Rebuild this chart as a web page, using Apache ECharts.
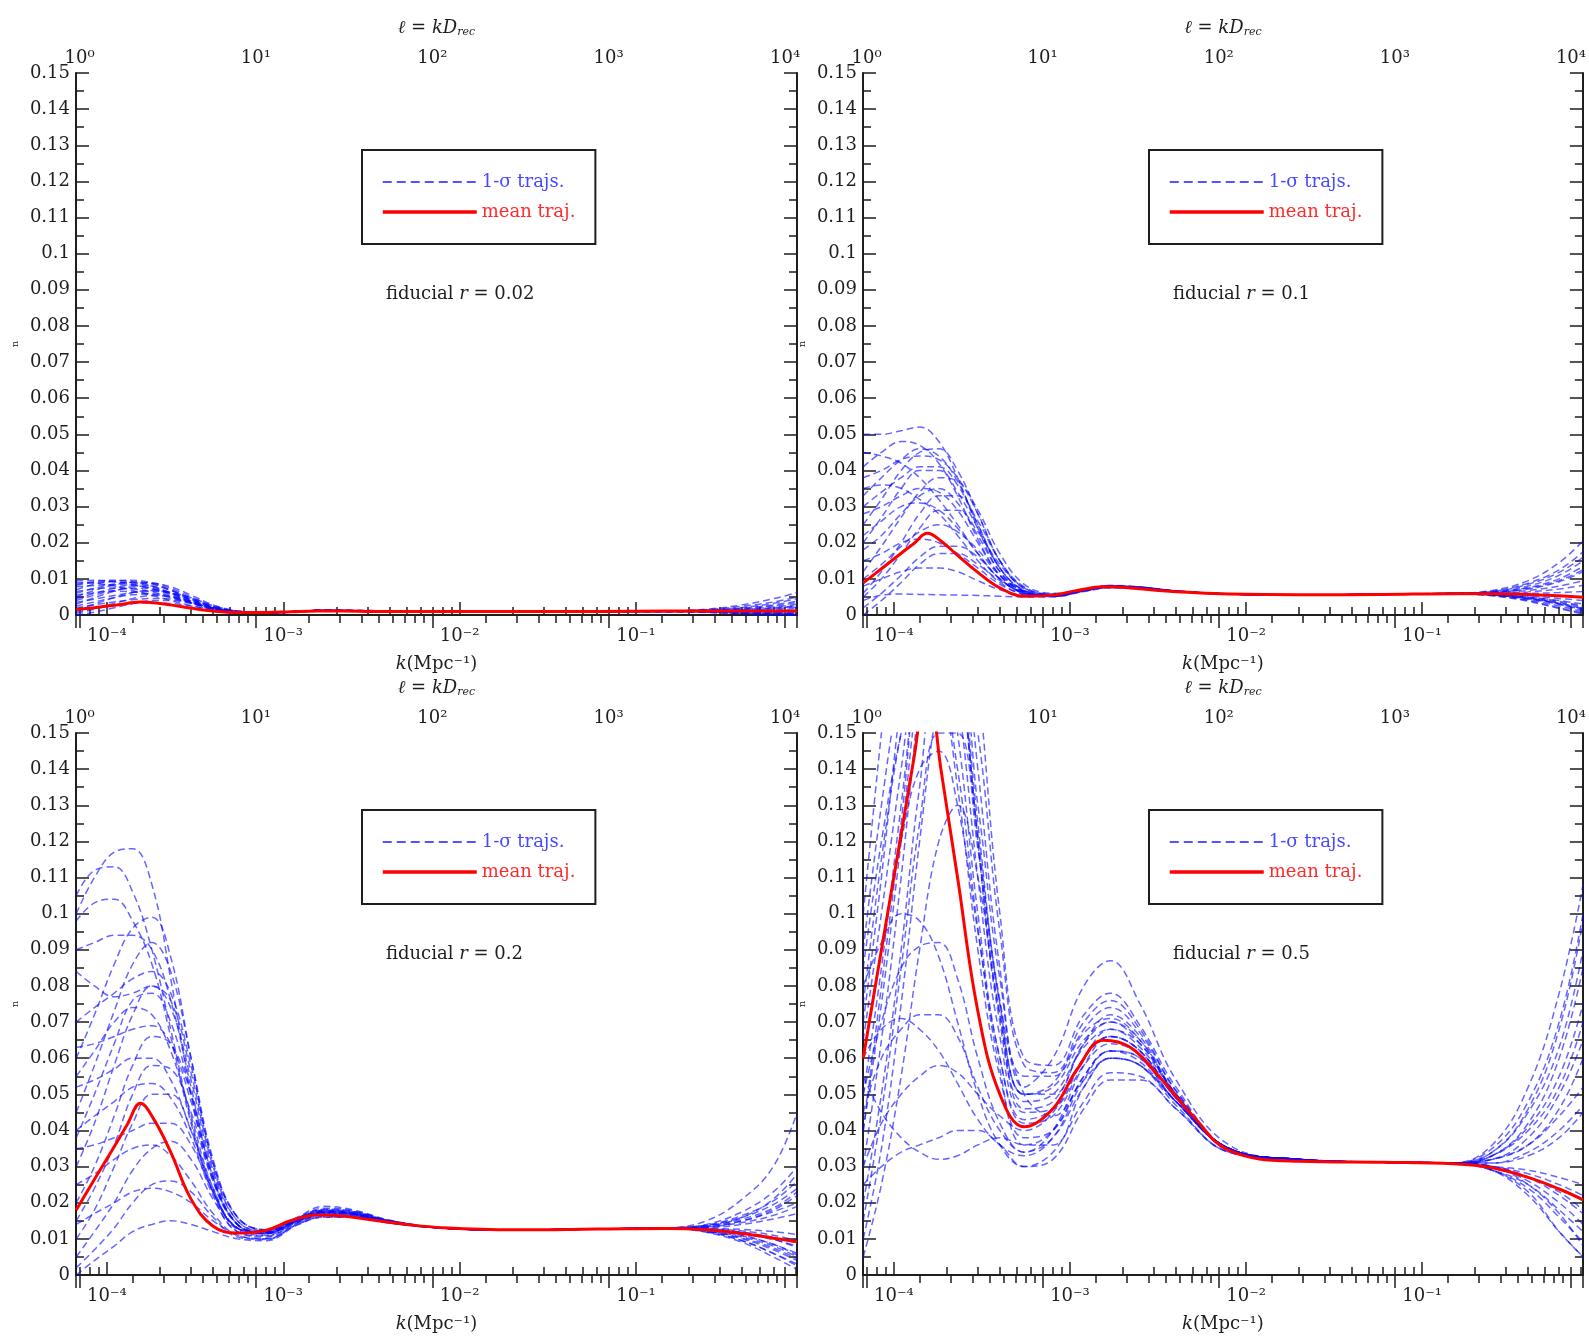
<!DOCTYPE html>
<html><head><meta charset="utf-8">
<script src="https://cdn.jsdelivr.net/npm/echarts@6/dist/echarts.min.js"></script>
<style>html,body{margin:0;padding:0;background:#fff}#c{width:1589px;height:1340px}</style>
</head><body><div id="c"></div>
<script>
// ---------------- data ----------------
const K = [6.7e-5, 8.5e-5, 1.1e-4, 1.4e-4, 1.8e-4, 2.3e-4, 3e-4, 4e-4, 5.5e-4, 8e-4, 1.2e-3, 1.7e-3, 2.5e-3, 4e-3, 8e-3, 2e-2, 6e-2, 0.15, 0.25, 0.4, 0.6, 0.82];
const K_MEAN = [6.7e-5, 8.5e-5, 1.1e-4, 1.3e-4, 1.55e-4, 1.85e-4, 2.3e-4, 3e-4, 4e-4, 5.5e-4, 8e-4, 1.1e-3, 1.55e-3, 2.2e-3, 3.2e-3, 5e-3, 8e-3, 2e-2, 6e-2, 0.15, 0.25, 0.4, 0.6, 0.82];
const K_MIN = 6.68e-5, K_MAX = 0.818, D_REC = 14290;
const fiducialR = ['0.02', '0.1', '0.2', '0.5'];

const mean_r002 = [0.0015,0.0020,0.0027,0.0032,0.0036,0.0034,0.0028,0.0019,0.0011,0.0007,0.0007,0.0009,0.0011,0.0011,0.0010,0.0010,0.0010,0.0010,0.0010,0.0011,0.0011,0.0011,0.0011,0.0011];
const mean_r01 = [0.0089,0.0128,0.0171,0.0198,0.0226,0.0205,0.0165,0.0118,0.0075,0.0052,0.0055,0.0068,0.0078,0.0075,0.0068,0.0062,0.0058,0.0056,0.0057,0.0059,0.0059,0.0057,0.0053,0.0049];
const mean_r02 = [0.018,0.0265,0.0355,0.0415,0.0475,0.043,0.034,0.021,0.0135,0.0116,0.0124,0.0150,0.0166,0.0163,0.0152,0.0140,0.0131,0.0125,0.0127,0.0129,0.0125,0.0115,0.0102,0.0092];
const mean_r05 = [0.060,0.090,0.122,0.143,0.165,0.140,0.110,0.073,0.050,0.041,0.046,0.057,0.065,0.063,0.055,0.044,0.0345,0.0315,0.0312,0.0308,0.0297,0.027,0.0238,0.0208];

const traj_r002 = [
[0.0085,0.0093,0.0096,0.0092,0.0080,0.0060,0.0036,0.0017,0.0008,0.0007,0.0010,0.0013,0.0012,0.0011,0.0010,0.0010,0.0010,0.0011,0.0016,0.0028,0.0045,0.0062],
[0.0070,0.0085,0.0094,0.0096,0.0088,0.0068,0.0042,0.0020,0.0009,0.0006,0.0010,0.0013,0.0013,0.0011,0.0010,0.0010,0.0010,0.0010,0.0008,0.0004,0.0001,0.0000],
[0.0050,0.0068,0.0083,0.0090,0.0086,0.0070,0.0046,0.0022,0.0010,0.0006,0.0009,0.0012,0.0012,0.0011,0.0010,0.0010,0.0010,0.0011,0.0014,0.0021,0.0032,0.0045],
[0.0030,0.0048,0.0066,0.0078,0.0080,0.0068,0.0046,0.0023,0.0010,0.0006,0.0009,0.0012,0.0012,0.0011,0.0010,0.0010,0.0010,0.0010,0.0009,0.0006,0.0003,0.0001],
[0.0090,0.0088,0.0080,0.0068,0.0054,0.0040,0.0026,0.0014,0.0007,0.0006,0.0010,0.0013,0.0012,0.0011,0.0010,0.0010,0.0010,0.0011,0.0013,0.0018,0.0025,0.0034],
[0.0015,0.0030,0.0048,0.0062,0.0068,0.0060,0.0042,0.0021,0.0009,0.0006,0.0009,0.0012,0.0012,0.0011,0.0010,0.0010,0.0010,0.0010,0.0010,0.0008,0.0006,0.0004],
[0.0065,0.0072,0.0075,0.0072,0.0064,0.0050,0.0033,0.0017,0.0008,0.0006,0.0010,0.0013,0.0012,0.0011,0.0010,0.0010,0.0010,0.0011,0.0015,0.0024,0.0036,0.0050],
[0.0005,0.0016,0.0032,0.0046,0.0054,0.0050,0.0037,0.0019,0.0008,0.0006,0.0009,0.0012,0.0012,0.0011,0.0010,0.0010,0.0010,0.0010,0.0007,0.0003,0.0000,0.0000],
[0.0040,0.0055,0.0068,0.0074,0.0072,0.0062,0.0044,0.0023,0.0010,0.0007,0.0010,0.0013,0.0012,0.0011,0.0010,0.0010,0.0010,0.0011,0.0012,0.0015,0.0020,0.0026],
[0.0025,0.0036,0.0048,0.0056,0.0058,0.0052,0.0038,0.0020,0.0009,0.0006,0.0009,0.0012,0.0012,0.0011,0.0010,0.0010,0.0010,0.0010,0.0009,0.0007,0.0005,0.0002],
[0.0078,0.0082,0.0084,0.0082,0.0074,0.0058,0.0038,0.0019,0.0008,0.0006,0.0010,0.0013,0.0013,0.0011,0.0010,0.0010,0.0010,0.0010,0.0011,0.0012,0.0014,0.0018],
[0.0000,0.0008,0.0020,0.0032,0.0040,0.0040,0.0032,0.0018,0.0008,0.0006,0.0009,0.0012,0.0012,0.0011,0.0010,0.0010,0.0010,0.0010,0.0008,0.0005,0.0002,0.0000],
[0.0055,0.0062,0.0066,0.0064,0.0058,0.0048,0.0034,0.0019,0.0009,0.0006,0.0010,0.0013,0.0012,0.0011,0.0010,0.0010,0.0010,0.0011,0.0013,0.0019,0.0028,0.0038],
[0.0035,0.0044,0.0054,0.0062,0.0066,0.0062,0.0048,0.0026,0.0011,0.0006,0.0009,0.0012,0.0012,0.0011,0.0010,0.0010,0.0010,0.0010,0.0010,0.0009,0.0008,0.0007],
[0.0020,0.0028,0.0036,0.0042,0.0046,0.0044,0.0034,0.0019,0.0009,0.0006,0.0009,0.0012,0.0012,0.0011,0.0010,0.0010,0.0010,0.0010,0.0011,0.0013,0.0017,0.0022],
[0.0095,0.0096,0.0092,0.0084,0.0072,0.0054,0.0034,0.0016,0.0007,0.0006,0.0010,0.0013,0.0012,0.0011,0.0010,0.0010,0.0010,0.0010,0.0008,0.0005,0.0002,0.0001],
[0.0010,0.0018,0.0026,0.0032,0.0034,0.0032,0.0025,0.0015,0.0008,0.0006,0.0009,0.0012,0.0012,0.0011,0.0010,0.0010,0.0010,0.0011,0.0012,0.0016,0.0022,0.0030],
[0.0045,0.0060,0.0074,0.0084,0.0088,0.0078,0.0055,0.0028,0.0011,0.0007,0.0010,0.0013,0.0012,0.0011,0.0010,0.0010,0.0010,0.0010,0.0009,0.0006,0.0004,0.0003],
[0.0060,0.0074,0.0086,0.0091,0.0089,0.0074,0.0050,0.0025,0.0011,0.0007,0.0010,0.0013,0.0012,0.0011,0.0010,0.0010,0.0010,0.0011,0.0012,0.0014,0.0018,0.0024],
[0.0082,0.0090,0.0092,0.0088,0.0078,0.0062,0.0040,0.0020,0.0009,0.0006,0.0010,0.0013,0.0012,0.0011,0.0010,0.0010,0.0010,0.0010,0.0009,0.0007,0.0006,0.0005]
];

const traj_r01 = [
[0.050,0.050,0.051,0.052,0.048,0.038,0.024,0.012,0.0065,0.0055,0.0070,0.0080,0.0076,0.0066,0.0058,0.0056,0.0057,0.0060,0.0068,0.0095,0.0145,0.0205],
[0.041,0.045,0.048,0.047,0.042,0.033,0.021,0.011,0.0060,0.0052,0.0068,0.0078,0.0075,0.0066,0.0058,0.0056,0.0057,0.0059,0.0055,0.0040,0.0020,0.0005],
[0.025,0.032,0.040,0.045,0.046,0.040,0.028,0.015,0.0075,0.0058,0.0070,0.0082,0.0078,0.0067,0.0058,0.0056,0.0057,0.0060,0.0064,0.0080,0.0110,0.0150],
[0.030,0.034,0.038,0.041,0.041,0.036,0.025,0.013,0.0068,0.0054,0.0069,0.0079,0.0076,0.0066,0.0058,0.0056,0.0057,0.0059,0.0057,0.0048,0.0035,0.0022],
[0.012,0.019,0.027,0.034,0.038,0.037,0.029,0.017,0.0085,0.0060,0.0071,0.0080,0.0076,0.0066,0.0058,0.0056,0.0057,0.0060,0.0062,0.0072,0.0092,0.0120],
[0.035,0.036,0.035,0.032,0.028,0.022,0.015,0.0090,0.0058,0.0052,0.0067,0.0077,0.0075,0.0066,0.0058,0.0056,0.0057,0.0059,0.0056,0.0045,0.0030,0.0012],
[0.018,0.022,0.028,0.033,0.035,0.031,0.022,0.012,0.0065,0.0054,0.0069,0.0079,0.0076,0.0066,0.0058,0.0056,0.0057,0.0060,0.0066,0.0088,0.0125,0.0175],
[0.005,0.010,0.017,0.024,0.029,0.029,0.023,0.014,0.0075,0.0057,0.0070,0.0080,0.0076,0.0066,0.0058,0.0056,0.0057,0.0059,0.0058,0.0050,0.0040,0.0030],
[0.022,0.026,0.030,0.031,0.029,0.024,0.017,0.010,0.0062,0.0053,0.0068,0.0078,0.0075,0.0066,0.0058,0.0056,0.0057,0.0060,0.0061,0.0068,0.0080,0.0095],
[0.010,0.014,0.019,0.023,0.025,0.023,0.018,0.011,0.0065,0.0054,0.0068,0.0078,0.0075,0.0066,0.0058,0.0056,0.0057,0.0059,0.0054,0.0042,0.0025,0.0008],
[0.045,0.044,0.042,0.038,0.032,0.025,0.017,0.010,0.0060,0.0052,0.0068,0.0078,0.0076,0.0066,0.0058,0.0056,0.0057,0.0060,0.0065,0.0085,0.0118,0.0160],
[0.002,0.006,0.011,0.016,0.019,0.019,0.016,0.010,0.0062,0.0054,0.0068,0.0077,0.0075,0.0066,0.0058,0.0056,0.0057,0.0059,0.0057,0.0050,0.0038,0.0025],
[0.015,0.017,0.020,0.021,0.020,0.017,0.013,0.0085,0.0058,0.0052,0.0067,0.0077,0.0074,0.0066,0.0058,0.0056,0.0057,0.0059,0.0060,0.0064,0.0072,0.0082],
[0.008,0.010,0.012,0.013,0.013,0.012,0.0095,0.0070,0.0055,0.0051,0.0066,0.0076,0.0074,0.0065,0.0058,0.0056,0.0057,0.0059,0.0055,0.0045,0.0030,0.0015],
[0.028,0.030,0.033,0.035,0.034,0.029,0.020,0.011,0.0063,0.0053,0.0068,0.0079,0.0076,0.0066,0.0058,0.0056,0.0057,0.0060,0.0063,0.0076,0.0100,0.0135],
[0.004,0.0055,0.0058,0.0057,0.0056,0.0055,0.0054,0.0052,0.0050,0.0050,0.0065,0.0075,0.0073,0.0065,0.0058,0.0056,0.0057,0.0059,0.0057,0.0053,0.0046,0.0040],
[0.038,0.040,0.043,0.044,0.043,0.038,0.028,0.015,0.0072,0.0056,0.0070,0.0081,0.0077,0.0066,0.0058,0.0056,0.0057,0.0060,0.0059,0.0060,0.0062,0.0065],
[0.000,0.004,0.009,0.014,0.017,0.017,0.014,0.0095,0.0062,0.0054,0.0068,0.0078,0.0075,0.0066,0.0058,0.0056,0.0057,0.0059,0.0053,0.0038,0.0018,0.0002],
[0.020,0.027,0.035,0.040,0.040,0.034,0.024,0.013,0.0068,0.0055,0.0069,0.0079,0.0076,0.0066,0.0058,0.0056,0.0057,0.0059,0.0056,0.0047,0.0033,0.0018],
[0.033,0.038,0.043,0.046,0.044,0.037,0.025,0.013,0.0066,0.0054,0.0069,0.0080,0.0077,0.0066,0.0058,0.0056,0.0057,0.0060,0.0063,0.0074,0.0095,0.0125],
[0.006,0.012,0.020,0.028,0.033,0.033,0.026,0.015,0.0078,0.0058,0.0070,0.0080,0.0076,0.0066,0.0058,0.0056,0.0057,0.0059,0.0056,0.0046,0.0032,0.0016]
];

const traj_r02 = [
[0.100,0.110,0.117,0.118,0.108,0.082,0.050,0.026,0.014,0.0120,0.0155,0.0180,0.0175,0.0150,0.0130,0.0125,0.0127,0.0130,0.0150,0.0210,0.0300,0.0450],
[0.105,0.112,0.113,0.106,0.090,0.068,0.043,0.023,0.013,0.0115,0.0150,0.0175,0.0170,0.0148,0.0130,0.0125,0.0127,0.0130,0.0135,0.0160,0.0210,0.0280],
[0.098,0.103,0.104,0.098,0.086,0.066,0.042,0.023,0.013,0.0115,0.0150,0.0172,0.0168,0.0147,0.0130,0.0125,0.0127,0.0130,0.0120,0.0095,0.0060,0.0030],
[0.060,0.072,0.086,0.096,0.099,0.088,0.060,0.031,0.016,0.0125,0.0158,0.0182,0.0176,0.0150,0.0130,0.0125,0.0127,0.0130,0.0140,0.0175,0.0230,0.0300],
[0.045,0.058,0.073,0.086,0.092,0.084,0.060,0.032,0.016,0.0125,0.0157,0.0180,0.0175,0.0150,0.0130,0.0125,0.0127,0.0130,0.0125,0.0110,0.0085,0.0060],
[0.084,0.080,0.077,0.078,0.080,0.074,0.054,0.029,0.015,0.0120,0.0155,0.0178,0.0172,0.0149,0.0130,0.0125,0.0127,0.0130,0.0132,0.0150,0.0180,0.0220],
[0.030,0.042,0.058,0.072,0.080,0.076,0.056,0.030,0.015,0.0122,0.0155,0.0178,0.0172,0.0149,0.0130,0.0125,0.0127,0.0130,0.0122,0.0100,0.0070,0.0040],
[0.063,0.064,0.066,0.068,0.069,0.064,0.048,0.027,0.014,0.0118,0.0152,0.0175,0.0170,0.0148,0.0130,0.0125,0.0127,0.0130,0.0138,0.0165,0.0205,0.0260],
[0.020,0.030,0.044,0.058,0.066,0.064,0.050,0.028,0.014,0.0118,0.0152,0.0174,0.0170,0.0148,0.0130,0.0125,0.0127,0.0130,0.0128,0.0118,0.0100,0.0075],
[0.052,0.054,0.057,0.060,0.060,0.054,0.040,0.023,0.013,0.0115,0.0150,0.0172,0.0168,0.0147,0.0130,0.0125,0.0127,0.0130,0.0134,0.0150,0.0175,0.0200],
[0.010,0.018,0.030,0.042,0.050,0.050,0.040,0.024,0.0125,0.0110,0.0148,0.0170,0.0166,0.0146,0.0130,0.0125,0.0127,0.0130,0.0120,0.0095,0.0060,0.0025],
[0.040,0.044,0.048,0.052,0.053,0.049,0.038,0.022,0.012,0.0108,0.0146,0.0168,0.0166,0.0146,0.0130,0.0125,0.0127,0.0130,0.0131,0.0140,0.0155,0.0170],
[0.005,0.012,0.020,0.029,0.035,0.037,0.032,0.021,0.012,0.0105,0.0145,0.0166,0.0164,0.0145,0.0130,0.0125,0.0127,0.0130,0.0126,0.0115,0.0098,0.0080],
[0.025,0.028,0.032,0.035,0.036,0.033,0.026,0.017,0.011,0.0100,0.0143,0.0165,0.0163,0.0145,0.0130,0.0125,0.0127,0.0130,0.0137,0.0160,0.0195,0.0240],
[0.002,0.007,0.013,0.020,0.025,0.026,0.023,0.016,0.0105,0.0098,0.0140,0.0163,0.0162,0.0144,0.0130,0.0125,0.0127,0.0130,0.0118,0.0090,0.0050,0.0015],
[0.014,0.017,0.020,0.023,0.024,0.023,0.020,0.015,0.0110,0.0100,0.0140,0.0160,0.0160,0.0144,0.0130,0.0125,0.0127,0.0130,0.0124,0.0108,0.0085,0.0055],
[0.070,0.074,0.078,0.082,0.084,0.078,0.058,0.031,0.016,0.0125,0.0158,0.0185,0.0178,0.0151,0.0130,0.0125,0.0127,0.0130,0.0128,0.0122,0.0110,0.0095],
[0.035,0.036,0.038,0.040,0.042,0.042,0.036,0.023,0.013,0.0120,0.0160,0.0190,0.0180,0.0152,0.0130,0.0125,0.0127,0.0130,0.0133,0.0145,0.0165,0.0190],
[0.000,0.004,0.008,0.012,0.014,0.015,0.014,0.012,0.0100,0.0095,0.0138,0.0160,0.0160,0.0144,0.0130,0.0125,0.0127,0.0130,0.0121,0.0102,0.0075,0.0045],
[0.090,0.092,0.094,0.094,0.090,0.076,0.052,0.027,0.014,0.0118,0.0152,0.0176,0.0171,0.0149,0.0130,0.0125,0.0127,0.0130,0.0123,0.0105,0.0080,0.0050],
[0.038,0.050,0.064,0.076,0.078,0.070,0.050,0.027,0.014,0.0118,0.0152,0.0176,0.0171,0.0149,0.0130,0.0125,0.0127,0.0130,0.0129,0.0126,0.0120,0.0112],
[0.015,0.024,0.036,0.050,0.058,0.057,0.045,0.026,0.014,0.0116,0.0150,0.0173,0.0169,0.0148,0.0130,0.0125,0.0127,0.0130,0.0127,0.0118,0.0104,0.0088],
[0.055,0.062,0.070,0.074,0.072,0.062,0.044,0.024,0.013,0.0114,0.0149,0.0172,0.0168,0.0147,0.0130,0.0125,0.0127,0.0130,0.0136,0.0155,0.0185,0.0230]
];

const traj_r05 = [
[0.070,0.110,0.160,0.200,0.210,0.180,0.120,0.070,0.048,0.050,0.063,0.068,0.063,0.050,0.035,0.032,0.0312,0.031,0.036,0.052,0.078,0.108],
[0.040,0.075,0.120,0.165,0.190,0.175,0.125,0.075,0.050,0.052,0.065,0.070,0.064,0.050,0.035,0.032,0.0312,0.031,0.034,0.046,0.068,0.098],
[0.090,0.130,0.165,0.185,0.180,0.150,0.100,0.060,0.043,0.046,0.060,0.066,0.062,0.049,0.035,0.032,0.0312,0.031,0.029,0.024,0.016,0.009],
[0.020,0.050,0.090,0.135,0.165,0.165,0.130,0.082,0.055,0.055,0.067,0.071,0.065,0.050,0.035,0.032,0.0312,0.031,0.033,0.042,0.060,0.085],
[0.060,0.090,0.120,0.140,0.145,0.130,0.095,0.060,0.042,0.044,0.058,0.064,0.061,0.049,0.035,0.032,0.0312,0.031,0.030,0.026,0.020,0.014],
[0.080,0.092,0.100,0.098,0.088,0.070,0.050,0.036,0.030,0.034,0.048,0.056,0.055,0.046,0.034,0.032,0.0312,0.031,0.032,0.038,0.050,0.065],
[0.050,0.070,0.085,0.091,0.092,0.082,0.060,0.042,0.034,0.038,0.052,0.060,0.058,0.047,0.034,0.032,0.0312,0.031,0.030,0.025,0.017,0.008],
[0.045,0.060,0.068,0.072,0.072,0.066,0.052,0.040,0.034,0.040,0.058,0.066,0.062,0.049,0.035,0.032,0.0312,0.031,0.032,0.036,0.044,0.052],
[0.060,0.068,0.071,0.068,0.062,0.053,0.043,0.036,0.033,0.038,0.054,0.062,0.060,0.048,0.035,0.032,0.0312,0.031,0.030,0.027,0.022,0.017],
[0.030,0.042,0.050,0.055,0.058,0.056,0.050,0.044,0.040,0.045,0.060,0.066,0.062,0.049,0.035,0.032,0.0312,0.031,0.033,0.040,0.052,0.070],
[0.055,0.045,0.038,0.034,0.032,0.033,0.036,0.038,0.036,0.040,0.055,0.062,0.060,0.048,0.035,0.032,0.0312,0.031,0.029,0.023,0.012,0.005],
[0.100,0.150,0.200,0.230,0.220,0.180,0.120,0.072,0.050,0.053,0.068,0.074,0.067,0.051,0.035,0.032,0.0312,0.031,0.031,0.033,0.038,0.045],
[0.030,0.065,0.110,0.160,0.200,0.210,0.165,0.100,0.060,0.058,0.072,0.078,0.069,0.052,0.035,0.032,0.0312,0.031,0.032,0.036,0.046,0.060],
[0.010,0.035,0.075,0.120,0.160,0.180,0.150,0.095,0.058,0.056,0.070,0.076,0.068,0.051,0.035,0.032,0.0312,0.031,0.029,0.025,0.018,0.012],
[0.075,0.115,0.150,0.170,0.165,0.135,0.090,0.055,0.038,0.040,0.055,0.062,0.059,0.048,0.035,0.032,0.0312,0.031,0.034,0.045,0.063,0.090],
[0.005,0.025,0.055,0.090,0.120,0.130,0.110,0.072,0.046,0.048,0.064,0.072,0.066,0.050,0.035,0.032,0.0312,0.031,0.030,0.028,0.025,0.022],
[0.085,0.120,0.150,0.168,0.165,0.140,0.096,0.057,0.036,0.036,0.052,0.060,0.058,0.048,0.035,0.032,0.0312,0.031,0.031,0.034,0.040,0.047],
[0.040,0.080,0.125,0.175,0.200,0.190,0.140,0.085,0.052,0.060,0.080,0.087,0.075,0.054,0.036,0.032,0.0312,0.031,0.030,0.027,0.023,0.018],
[0.065,0.100,0.140,0.175,0.185,0.160,0.110,0.066,0.045,0.046,0.060,0.068,0.064,0.050,0.035,0.032,0.0312,0.031,0.035,0.048,0.070,0.100],
[0.015,0.045,0.085,0.125,0.150,0.150,0.118,0.075,0.050,0.050,0.064,0.070,0.065,0.050,0.035,0.032,0.0312,0.031,0.029,0.022,0.012,0.005],
[0.050,0.085,0.130,0.170,0.185,0.170,0.122,0.076,0.050,0.044,0.054,0.060,0.058,0.048,0.035,0.032,0.0312,0.031,0.033,0.041,0.055,0.075],
[0.025,0.030,0.034,0.036,0.038,0.040,0.040,0.036,0.030,0.032,0.046,0.054,0.054,0.046,0.034,0.032,0.0312,0.031,0.030,0.029,0.027,0.025]
];

// ---------------- chart ----------------
const FONT = 'DejaVu Serif';
const INK = '#1e1e1e';
const BLUE = 'rgba(10,10,255,0.62)';
const RED = '#ff0000';
const SUP = {'-':'\u207b','0':'\u2070','1':'\u00b9','2':'\u00b2','3':'\u00b3','4':'\u2074','5':'\u2075','6':'\u2076','7':'\u2077','8':'\u2078','9':'\u2079'};
function sup(n){ return String(n).split('').map(c => SUP[c]).join(''); }
function powLabel(v){ const l = Math.log10(v); const e = Math.round(l); if (Math.abs(l - e) > 1e-6) return ''; return '10' + sup(e); }

const panels = [
  {mean: mean_r002, trajs: traj_r002},
  {mean: mean_r01, trajs: traj_r01},
  {mean: mean_r02, trajs: traj_r02},
  {mean: mean_r05, trajs: traj_r05}
];
const GRID_POS = [[76, 73], [863, 73], [76, 733], [863, 733]];
const GW = 721, GH = 542;

const axisLine = {show: true, lineStyle: {color: INK, width: 2}};
const tickStyle = {color: INK, width: 1.5};
const grids = [], xAxes = [], yAxes = [], series = [], legends = [], titles = [];
const mathRich = {
  i: {fontFamily: FONT, fontSize: 18, fontStyle: 'italic', color: INK},
  r: {fontFamily: FONT, fontSize: 18, color: INK},
  s: {fontFamily: FONT, fontSize: 11, fontStyle: 'italic', color: INK, verticalAlign: 'bottom', padding: [8, 0, 0, 0]}
};

panels.forEach((p, g) => {
  const [L, T] = GRID_POS[g];
  grids.push({left: L, top: T, width: GW, height: GH, containLabel: false});
  xAxes.push({
    type: 'log', gridIndex: g, position: 'bottom', min: K_MIN, max: K_MAX,
    axisLine, splitLine: {show: false},
    axisTick: {show: true, inside: true, length: 13, lineStyle: tickStyle},
    minorTick: {show: true, splitNumber: 9, length: 8, lineStyle: tickStyle},
    axisLabel: {formatter: powLabel, fontFamily: FONT, fontSize: 18, color: INK, margin: 12},
    name: '{i|k}{r|(Mpc\u207b\u00b9)}', nameLocation: 'middle', nameGap: 40,
    nameTextStyle: {rich: mathRich}
  });
  xAxes.push({
    type: 'log', gridIndex: g, position: 'top', min: K_MIN * D_REC, max: K_MAX * D_REC,
    axisLine, splitLine: {show: false},
    axisTick: {show: true, inside: true, length: 13, lineStyle: tickStyle},
    minorTick: {show: true, splitNumber: 9, length: 8, lineStyle: tickStyle},
    axisLabel: {formatter: powLabel, fontFamily: FONT, fontSize: 18, color: INK, margin: 6},
    name: '{i|\u2113}{r| = }{i|kD}{s|rec}', nameLocation: 'middle', nameGap: 35,
    nameTextStyle: {rich: mathRich}
  });
  const yBase = {
    type: 'value', gridIndex: g, min: 0, max: 0.15, interval: 0.01,
    axisLine, splitLine: {show: false},
    axisTick: {show: true, inside: true, length: 13, lineStyle: tickStyle},
    minorTick: {show: true, splitNumber: 2, length: 8, lineStyle: tickStyle}
  };
  yAxes.push(Object.assign({}, yBase, {
    position: 'left',
    axisLabel: {fontFamily: FONT, fontSize: 18, color: INK, margin: 6},
    name: 'n', nameLocation: 'middle', nameRotate: 90, nameGap: 56,
    nameTextStyle: {fontFamily: FONT, fontSize: 10, color: INK}
  }));
  yAxes.push(Object.assign({}, yBase, {position: 'right', axisLabel: {show: false}}));

  p.trajs.forEach(t => {
    series.push({
      type: 'line', name: '1-\u03c3 trajs.', xAxisIndex: 2 * g, yAxisIndex: 2 * g,
      data: K.map((k, i) => [k, t[i]]), symbol: 'none', smooth: 0.4, silent: true,
      itemStyle: {color: BLUE},
      lineStyle: {color: BLUE, width: 1.5, type: [7, 4]}, z: 2
    });
  });
  series.push({
    type: 'line', name: 'mean traj.', xAxisIndex: 2 * g, yAxisIndex: 2 * g,
    data: K_MEAN.map((k, i) => [k, p.mean[i]]), symbol: 'none', smooth: 0.4, silent: true,
    itemStyle: {color: RED},
    lineStyle: {color: RED, width: 3}, z: 5
  });

  legends.push({
    left: L + 286, top: T + 77, orient: 'vertical', selectedMode: false,
    padding: [23, 20, 23, 19], itemGap: 12, itemWidth: 94, itemHeight: 14,
    borderColor: INK, borderWidth: 2, borderRadius: 0, backgroundColor: '#fff',
    itemStyle: {opacity: 0},
    textStyle: {fontFamily: FONT, fontSize: 18, width: 112},
    data: [
      {name: '1-\u03c3 trajs.', textStyle: {color: '#4848ff'}, itemStyle: {opacity: 0},
       lineStyle: {color: 'rgba(40,40,255,0.8)', width: 2.2, type: [9, 5]}},
      {name: 'mean traj.', textStyle: {color: '#ff2b2b'}, itemStyle: {opacity: 0},
       lineStyle: {color: RED, width: 3.5}}
    ]
  });
  titles.push({
    text: 'fiducial {i|r}{r| = ' + fiducialR[g] + '}', left: L + 305, top: T + 207,
    textStyle: {fontFamily: FONT, fontSize: 18, fontWeight: 'normal', color: INK, rich: mathRich}
  });
});

const chart = echarts.init(document.getElementById('c'), null, {renderer: 'canvas'});
chart.setOption({
  animation: false,
  backgroundColor: '#fff',
  title: titles,
  legend: legends,
  grid: grids,
  xAxis: xAxes,
  yAxis: yAxes,
  series
});
</script>
</body></html>
